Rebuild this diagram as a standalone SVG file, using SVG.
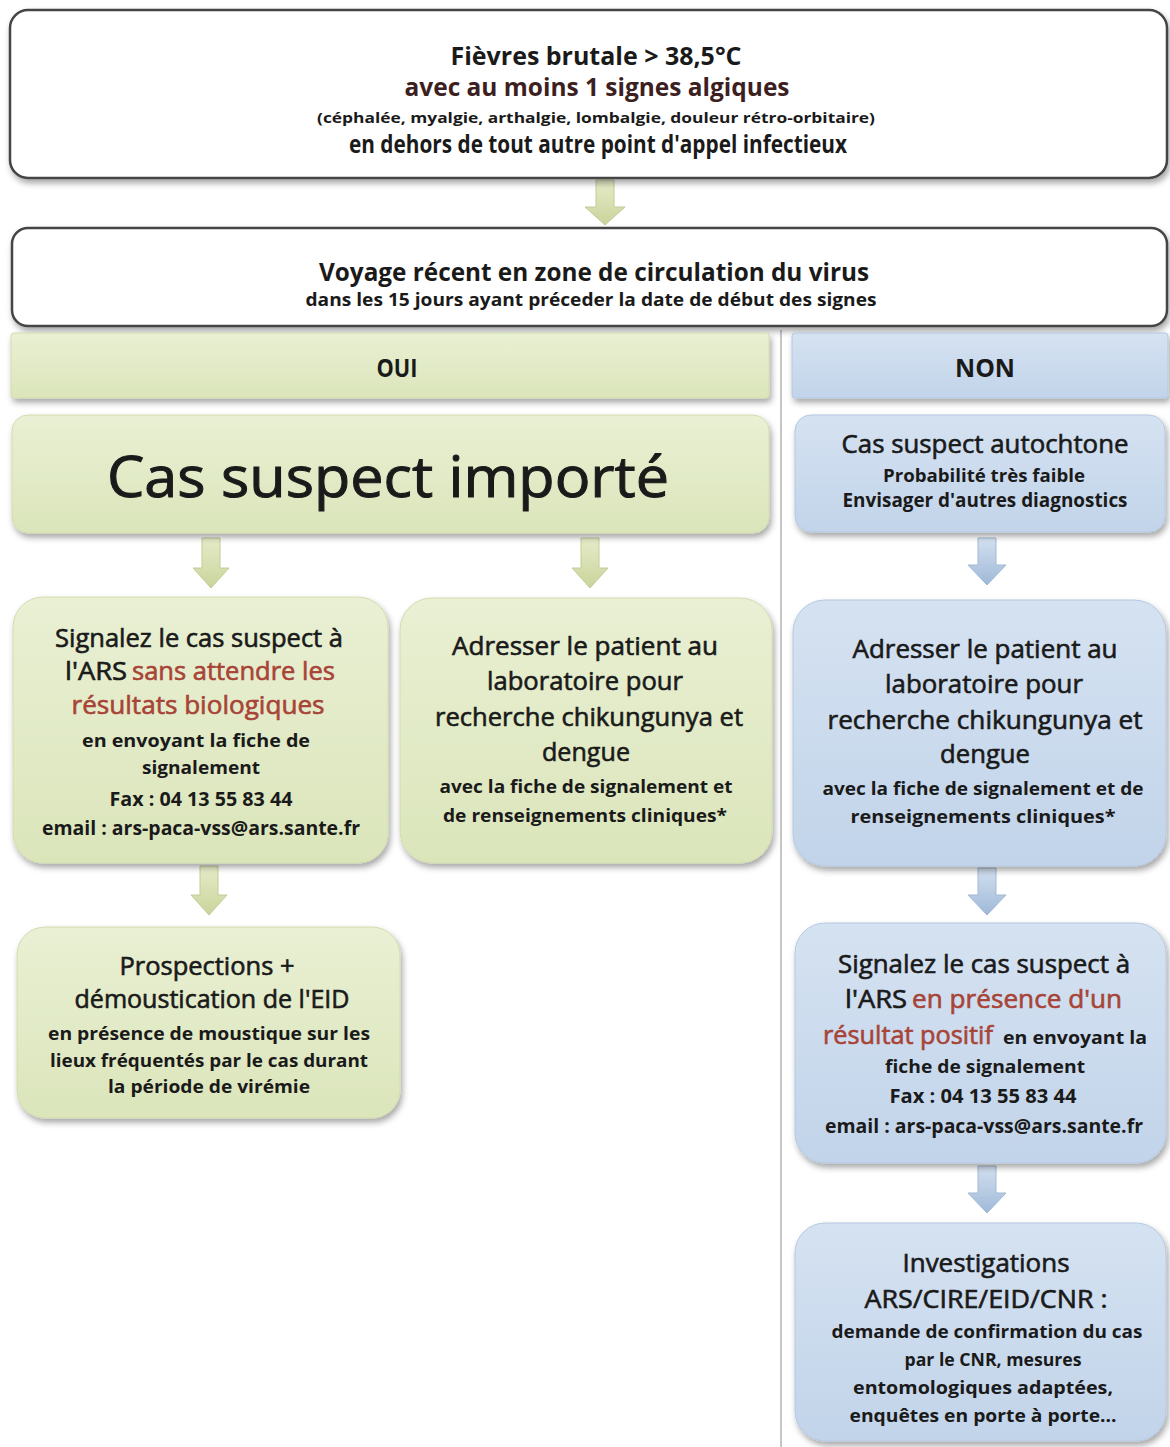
<svg xmlns="http://www.w3.org/2000/svg" width="1170" height="1447" viewBox="0 0 1170 1447">
<defs>
<filter id="sh" x="-10%" y="-10%" width="120%" height="130%">
<feDropShadow dx="2" dy="4" stdDeviation="3" flood-color="#000" flood-opacity="0.35"/>
</filter>
<linearGradient id="gG" x1="0" y1="0" x2="0" y2="1">
<stop offset="0" stop-color="#e9f0d4"/><stop offset="1" stop-color="#dbe5ba"/>
</linearGradient>
<linearGradient id="gB" x1="0" y1="0" x2="0" y2="1">
<stop offset="0" stop-color="#d5e2f1"/><stop offset="1" stop-color="#c2d4ea"/>
</linearGradient>
<linearGradient id="aG" x1="0" y1="0" x2="0" y2="1">
<stop offset="0" stop-color="#e6ecc9"/><stop offset="1" stop-color="#c9d49a"/>
</linearGradient>
<linearGradient id="aB" x1="0" y1="0" x2="0" y2="1">
<stop offset="0" stop-color="#d3e0ef"/><stop offset="1" stop-color="#9fb9d8"/>
</linearGradient>
</defs>
<style>
text{font-family:"Open Sans","Liberation Sans",sans-serif;fill:#1a1a1a;stroke:#1a1a1a;stroke-width:0.6px;text-anchor:middle;font-weight:400;font-size:25px}
.st{text-anchor:start}
.s{font-weight:700;font-size:18px;stroke:none}
.b{font-weight:700;stroke:none}
.r{fill:#a84437;stroke:#a84437}
.wb{fill:#fff;stroke:#444;stroke-width:2.5}
.gb{fill:url(#gG);stroke:#d2dcae;stroke-width:1}
.bb{fill:url(#gB);stroke:#b5c8e0;stroke-width:1}
.ag{fill:url(#aG);stroke:#c3cc98;stroke-width:1}
.ab{fill:url(#aB);stroke:#a2b9d6;stroke-width:1}
</style>
<rect width="1170" height="1447" fill="#fff"/>
<line x1="781" y1="330" x2="781" y2="1447" stroke="#b3b3b3" stroke-width="1.5"/>

<g id="connectors">
<path class="ag" d="M596,180 H614 V207 H625 L605,225 L585,207 H596 Z"/>
<path class="ag" d="M202,538 H220 V568 H229 L211,588 L193,568 H202 Z"/>
<path class="ag" d="M581,538 H599 V568 H608 L590,588 L572,568 H581 Z"/>
<path class="ab" d="M978,538 H996 V565 H1006 L987,585 L968,565 H978 Z"/>
<path class="ag" d="M200,866 H218 V895 H227 L209,915 L191,895 H200 Z"/>
<path class="ab" d="M978,868 H996 V895 H1006 L987,915 L968,895 H978 Z"/>
<path class="ab" d="M978,1166 H996 V1193 H1006 L987,1213 L968,1193 H978 Z"/>
</g>

<g id="n-fievre">
<rect class="wb" x="10" y="10" width="1157" height="168" rx="18" filter="url(#sh)"/>
<text class="b" x="596" y="65" font-size="24" textLength="291" lengthAdjust="spacingAndGlyphs">Fièvres brutale &gt; 38,5°C</text>
<text class="b" x="597" y="96" font-size="24" style="fill:#3d1f1f" textLength="385" lengthAdjust="spacingAndGlyphs">avec au moins 1 signes algiques</text>
<text class="s" x="596" y="123" style="font-size:15px" textLength="558" lengthAdjust="spacingAndGlyphs">(céphalée, myalgie, arthalgie, lombalgie, douleur rétro-orbitaire)</text>
<text class="b" x="598" y="153" font-size="20" textLength="498" lengthAdjust="spacingAndGlyphs">en dehors de tout autre point d'appel infectieux</text>
</g>

<g id="n-voyage">
<rect class="wb" x="12" y="228" width="1155" height="98" rx="16" filter="url(#sh)"/>
<text class="b" x="594" y="281" textLength="550" lengthAdjust="spacingAndGlyphs">Voyage récent en zone de circulation du virus</text>
<text class="s" x="591" y="306" style="font-size:17px" textLength="571" lengthAdjust="spacingAndGlyphs">dans les 15 jours ayant préceder la date de début des signes</text>
</g>

<g id="n-oui">
<rect class="gb" x="11" y="333" width="758" height="65" rx="3" filter="url(#sh)"/>
<text class="b" x="397" y="377" font-size="23" textLength="41" lengthAdjust="spacingAndGlyphs">OUI</text>
</g>
<g id="n-non">
<rect class="bb" x="792" y="333" width="376" height="65" rx="3" filter="url(#sh)"/>
<text class="b" x="985" y="377" font-size="23" textLength="60" lengthAdjust="spacingAndGlyphs">NON</text>
</g>

<g id="n-importe">
<rect class="gb" x="12" y="415" width="757" height="118" rx="16" filter="url(#sh)"/>
<text x="388" y="497" style="font-size:56px;stroke-width:1px" textLength="562" lengthAdjust="spacingAndGlyphs">Cas suspect importé</text>
</g>

<g id="n-autochtone">
<rect class="bb" x="795" y="415" width="370" height="117" rx="16" filter="url(#sh)"/>
<text x="985" y="453" font-size="26" textLength="287" lengthAdjust="spacingAndGlyphs">Cas suspect autochtone</text>
<text class="s" x="984" y="482" textLength="202" lengthAdjust="spacingAndGlyphs">Probabilité très faible</text>
<text class="s" x="985" y="507" style="font-size:19px" textLength="285" lengthAdjust="spacingAndGlyphs">Envisager d'autres diagnostics</text>
</g>

<g id="n-signalez-oui">
<rect class="gb" x="13" y="597" width="375" height="266" rx="30" filter="url(#sh)"/>
<text x="199" y="647" textLength="288" lengthAdjust="spacingAndGlyphs">Signalez le cas suspect à</text>
<text class="st" x="65" y="680" textLength="62" lengthAdjust="spacingAndGlyphs">l'ARS</text>
<text class="st r" x="132" y="680" textLength="203" lengthAdjust="spacingAndGlyphs">sans attendre les</text>
<text class="r" x="198" y="714" textLength="253" lengthAdjust="spacingAndGlyphs">résultats biologiques</text>
<text class="s" x="196" y="747" textLength="228" lengthAdjust="spacingAndGlyphs">en envoyant la fiche de</text>
<text class="s" x="201" y="774" textLength="118" lengthAdjust="spacingAndGlyphs">signalement</text>
<text class="s" x="201" y="806" style="font-size:19px" textLength="183" lengthAdjust="spacingAndGlyphs">Fax : 04 13 55 83 44</text>
<text class="s" x="201" y="835" style="font-size:19px" textLength="318" lengthAdjust="spacingAndGlyphs">email : ars-paca-vss@ars.sante.fr</text>
</g>

<g id="n-adresser-oui">
<rect class="gb" x="400" y="598" width="372" height="265" rx="32" filter="url(#sh)"/>
<text x="585" y="655" textLength="266" lengthAdjust="spacingAndGlyphs">Adresser le patient au</text>
<text x="585" y="690" textLength="196" lengthAdjust="spacingAndGlyphs">laboratoire pour</text>
<text x="589" y="726" textLength="308" lengthAdjust="spacingAndGlyphs">recherche chikungunya et</text>
<text x="586" y="761" textLength="88" lengthAdjust="spacingAndGlyphs">dengue</text>
<text class="s" x="586" y="793" textLength="293" lengthAdjust="spacingAndGlyphs">avec la fiche de signalement et</text>
<text class="s" x="585" y="822" textLength="284" lengthAdjust="spacingAndGlyphs">de renseignements cliniques*</text>
</g>

<g id="n-adresser-non">
<rect class="bb" x="793" y="600" width="373" height="266" rx="32" filter="url(#sh)"/>
<text x="985" y="658" textLength="265" lengthAdjust="spacingAndGlyphs">Adresser le patient au</text>
<text x="984" y="693" textLength="198" lengthAdjust="spacingAndGlyphs">laboratoire pour</text>
<text x="985" y="729" textLength="315" lengthAdjust="spacingAndGlyphs">recherche chikungunya et</text>
<text x="985" y="763" textLength="90" lengthAdjust="spacingAndGlyphs">dengue</text>
<text class="s" x="983" y="795" textLength="321" lengthAdjust="spacingAndGlyphs">avec la fiche de signalement et de</text>
<text class="s" x="983" y="823" textLength="265" lengthAdjust="spacingAndGlyphs">renseignements cliniques*</text>
</g>

<g id="n-prospections">
<rect class="gb" x="17" y="927" width="383" height="191" rx="28" filter="url(#sh)"/>
<text x="207" y="975" textLength="175" lengthAdjust="spacingAndGlyphs">Prospections +</text>
<text x="212" y="1008" textLength="275" lengthAdjust="spacingAndGlyphs">démoustication de l'EID</text>
<text class="s" x="209" y="1040" textLength="322" lengthAdjust="spacingAndGlyphs">en présence de moustique sur les</text>
<text class="s" x="209" y="1067" textLength="318" lengthAdjust="spacingAndGlyphs">lieux fréquentés par le cas durant</text>
<text class="s" x="209" y="1093" textLength="202" lengthAdjust="spacingAndGlyphs">la période de virémie</text>
</g>

<g id="n-signalez-non">
<rect class="bb" x="795" y="923" width="371" height="240" rx="30" filter="url(#sh)"/>
<text x="984" y="973" textLength="292" lengthAdjust="spacingAndGlyphs">Signalez le cas suspect à</text>
<text class="st" x="845" y="1008" textLength="62" lengthAdjust="spacingAndGlyphs">l'ARS</text>
<text class="st r" x="912" y="1008" textLength="210" lengthAdjust="spacingAndGlyphs">en présence d'un</text>
<text class="st r" x="823" y="1044" textLength="170" lengthAdjust="spacingAndGlyphs">résultat positif</text>
<text class="st s" x="1003" y="1044" textLength="144" lengthAdjust="spacingAndGlyphs">en envoyant la</text>
<text class="s" x="985" y="1073" textLength="200" lengthAdjust="spacingAndGlyphs">fiche de signalement</text>
<text class="s" x="983" y="1103" style="font-size:19px" textLength="187" lengthAdjust="spacingAndGlyphs">Fax : 04 13 55 83 44</text>
<text class="s" x="984" y="1133" style="font-size:19px" textLength="318" lengthAdjust="spacingAndGlyphs">email : ars-paca-vss@ars.sante.fr</text>
</g>

<g id="n-investigations">
<rect class="bb" x="795" y="1223" width="371" height="218" rx="30" filter="url(#sh)"/>
<text x="986" y="1272" textLength="167" lengthAdjust="spacingAndGlyphs">Investigations</text>
<text x="986" y="1308" textLength="243" lengthAdjust="spacingAndGlyphs">ARS/CIRE/EID/CNR :</text>
<text class="s" x="987" y="1338" textLength="311" lengthAdjust="spacingAndGlyphs">demande de confirmation du cas</text>
<text class="s" x="993" y="1366" textLength="177" lengthAdjust="spacingAndGlyphs">par le CNR, mesures</text>
<text class="s" x="983" y="1394" textLength="260" lengthAdjust="spacingAndGlyphs">entomologiques adaptées,</text>
<text class="s" x="983" y="1422" textLength="267" lengthAdjust="spacingAndGlyphs">enquêtes en porte à porte...</text>
</g>
</svg>
